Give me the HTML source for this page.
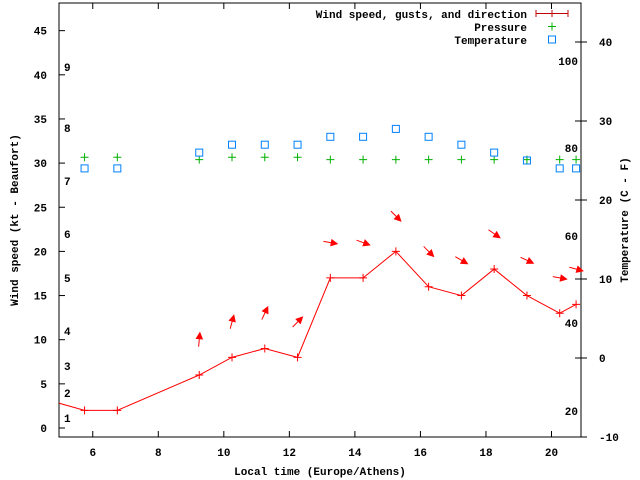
<!DOCTYPE html>
<html><head><meta charset="utf-8"><style>
html,body{margin:0;padding:0;background:#fff}
svg{display:block;font-family:"Liberation Mono",monospace;font-weight:bold;font-size:11px}
</style></head><body>
<svg width="640" height="480" viewBox="0 0 640 480">
<g id="g"></g>
</svg>
<script>
const times=[5.75,6.75,9.25,10.25,11.25,12.25,13.25,14.25,15.25,16.25,17.25,18.25,19.25,20.25,20.75];
const speeds=[2,2,6,8,9,8,17,17,20,16,15,18,15,13,14];
const headings=[null,null,5,15,25,45,100,110,135,135,120,125,115,100,105];
const pressure=[30.66,30.66,30.39,30.66,30.66,30.66,30.39,30.39,30.39,30.39,30.39,30.39,30.39,30.39,30.39];
const temps=[24,24,26,27,27,27,28,28,29,28,27,26,25,24,24];
const xTicks=[6,8,10,12,14,16,18,20];
const yTicks=[0,5,10,15,20,25,30,35,40,45];
const y2Ticks=[-10,0,10,20,30,40];
const beaufort=[["1",418],["2",393],["3",366],["4",331],["5",278],["6",234],["7",181],["8",128],["9",67]];
const fahr=[["20",411],["40",323],["60",236],["80",148],["100",61]];
const L=59,R=581,T=3,B=437,XMIN=4.97,XMAX=20.9;
const X=v=>L+(v-XMIN)/(XMAX-XMIN)*(R-L);
const Y=v=>428-v*8.83;
const Y2=v=>B-(v+10)*7.9;
const NS="http://www.w3.org/2000/svg",g=document.getElementById('g');
function mk(t,a,txt){const e=document.createElementNS(NS,t);for(const k in a)e.setAttribute(k,a[k]);if(txt!=null)e.textContent=txt;g.appendChild(e);return e;}
// frame
let e=mk('rect',{x:L,y:T,width:R-L,height:B-T,fill:'none',stroke:'#000','stroke-width':1});


xTicks.forEach(v=>{
 const x=X(v);
 mk('line',{x1:x,y1:B,x2:x,y2:B-6,stroke:'#000'});
 mk('line',{x1:x,y1:T,x2:x,y2:T+6,stroke:'#000'});
 e=mk('text',{x:x,y:B+19,'text-anchor':'middle'},v);
 
 
});
yTicks.forEach(v=>{
 const y=Y(v);
 mk('line',{x1:L,y1:y,x2:L+6,y2:y,stroke:'#000'});
 e=mk('text',{x:L-12,y:y+4,'text-anchor':'end'},v);
 
 
});
y2Ticks.forEach(v=>{
 const y=Y2(v);
 mk('line',{x1:R,y1:y,x2:R-6,y2:y,stroke:'#000'});
 mk('line',{x1:R,y1:y,x2:R+6,y2:y,stroke:'#000'});
 e=mk('text',{x:R+18,y:y+4,'text-anchor':'start'},v);
 
 
});
beaufort.forEach(b=>{e=mk('text',{x:64,y:b[1]+4},b[0]);
 
 });
fahr.forEach(b=>{e=mk('text',{x:578,y:b[1]+4,'text-anchor':'end'},b[0]);
 
 });
e=mk('text',{x:320,y:475,'text-anchor':'middle'},'Local time (Europe/Athens)');


e=mk('text',{x:18,y:220,'text-anchor':'middle',transform:'rotate(-90 18 220)'},'Wind speed (kt - Beaufort)');


e=mk('text',{x:628,y:220,'text-anchor':'middle',transform:'rotate(-90 628 220)'},'Temperature (C - F)');


// clip
const cp=document.createElementNS(NS,'clipPath');cp.setAttribute('id','c');
const cr=document.createElementNS(NS,'rect');cr.setAttribute('x',L);cr.setAttribute('y',T);cr.setAttribute('width',R-L);cr.setAttribute('height',B-T);cp.appendChild(cr);g.appendChild(cp);
// wind line
let pts=[[X(4.5),Y(3.3)]].concat(times.map((t,i)=>[X(t),Y(speeds[i])]));
e=mk('polyline',{points:pts.map(p=>p.join(',')).join(' '),fill:'none',stroke:'#f00','clip-path':'url(#c)'});


times.forEach((t,i)=>{
 const x=X(t),y=Y(speeds[i]);
 e=mk('path',{d:`M${x-4},${y}h8M${x},${y-4}v8`,stroke:'#f00'});
 
 
 if(headings[i]!=null){
  const cx=x,cy=Y(speeds[i]+4),a=headings[i]*Math.PI/180;
  const dx=Math.sin(a),dy=-Math.cos(a);
  const x1=cx-dx*7,y1=cy-dy*7,x2=cx+dx*7,y2=cy+dy*7;
  const px=-dy,py=dx;
  e=mk('path',{d:`M${x1},${y1}L${x2},${y2}M${x2},${y2}L${x2-dx*6+px*3},${y2-dy*6+py*3}L${x2-dx*6-px*3},${y2-dy*6-py*3}Z`,stroke:'#f00',fill:'#f00'});
  
  
 }
});
pressure.forEach((p,i)=>{
 const x=X(times[i]),y=Y(p);
 e=mk('path',{d:`M${x-4},${y}h8M${x},${y-4}v8`,stroke:'#00b000'});
 
 
});
temps.forEach((v,i)=>{
 const x=X(times[i]),y=Y2(v);
 e=mk('rect',{x:x-3.5,y:y-3.5,width:7,height:7,fill:'none',stroke:'#0080ff'});
 
 
});
// legend
e=mk('text',{x:527,y:18,'text-anchor':'end'},'Wind speed, gusts, and direction');


mk('path',{d:'M536,13.5h32M536,10v7M568,10v7M552,10v7',stroke:'#c00000'});
e=mk('text',{x:527,y:31,'text-anchor':'end'},'Pressure');


mk('path',{d:'M548,26.5h8M552,22.5v8',stroke:'#00b000'});
e=mk('text',{x:527,y:44,'text-anchor':'end'},'Temperature');


mk('rect',{x:548.5,y:36,width:7,height:7,fill:'none',stroke:'#0080ff'});
</script>
</body></html>
